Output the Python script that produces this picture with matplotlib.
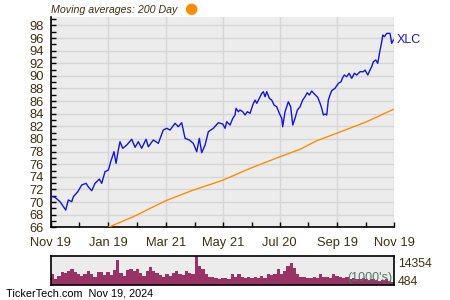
import matplotlib
matplotlib.use("Agg")
import matplotlib.pyplot as plt
from matplotlib.ticker import MultipleLocator, FixedLocator

plt.rcParams['font.family'] = ['Liberation Sans', 'DejaVu Sans']

# ---- data (days since Nov 19, 2023) ----
price_days = [0, 4.6, 9.9, 16, 18.7, 22.4, 24.1, 28.8, 33, 37.6, 40, 43.7, 47.2, 51.8, 54.3, 57.8,
              61.4, 63.9, 67.4, 69.6, 72, 73.8, 76.7, 81, 86.3, 89.8, 93.3, 96.9, 101.5, 104,
              109.3, 114.6, 119.9, 123.6, 127.1, 132.4, 135.9, 139.5, 143.1, 147.6, 151.9,
              155.5, 158.3, 160.8, 164.4, 167.9, 173.2, 178.5, 183.2, 185.7, 187.5, 191,
              193.9, 196.3, 197.4, 199.8, 201.6, 204.5, 207, 209.4, 212.3, 215.2, 217.6,
              219.5, 222.2, 224.8, 226.5, 228.3, 230.1, 232.9, 235.4, 237.9, 240.7, 243.5,
              246.1, 247.1, 249.6, 253.1, 255.6, 257.8, 260.2, 262.7, 265.6, 268.4, 270.9,
              273.3, 275.5, 278, 280.8, 284.4, 286.9, 288.7, 290.4, 292.2, 294, 295.7,
              297.5, 299.3, 302.8, 306.4, 309.2, 310.6, 312.7, 315.3, 317.8, 320.6, 323.4,
              325.9, 329.5, 333, 334.8, 337.7, 340.1, 341.9, 343.6, 346.2, 348.3, 350.8,
              352.6, 353.7, 355.4, 357.9, 361.4, 363.2, 365]
price_values = [70.96, 70.75, 70.06, 68.74, 70.33, 70.06, 70.85, 71.64, 72.70, 72.97, 72.43, 71.80,
                72.97, 73.65, 72.97, 74.81, 75.08, 76.40, 77.98, 76.14, 78.25, 79.57, 78.52,
                79.04, 79.95, 78.68, 79.57, 78.52, 79.95, 78.77, 79.84, 79.31, 81.42, 81.69,
                81.42, 82.48, 81.94, 82.58, 80.10, 79.84, 79.31, 77.98, 80.10, 77.82, 79.04,
                81.15, 81.69, 82.58, 82.37, 81.69, 82.74, 82.21, 83.27, 83.80, 84.86, 84.32,
                84.59, 84.32, 83.80, 84.32, 84.07, 85.38, 86.17, 85.65, 86.44, 87.24, 87.49,
                86.70, 87.49, 86.44, 86.17, 85.38, 85.11, 84.07, 83.27, 81.94, 84.32, 85.90,
                85.11, 82.21, 83.27, 84.59, 85.11, 86.17, 86.70, 87.33, 86.97, 87.60, 87.13,
                86.60, 85.65, 84.86, 83.80, 83.96, 83.80, 86.17, 86.97, 87.65, 88.03, 88.82,
                89.07, 89.61, 90.14, 89.87, 90.41, 89.61, 90.41, 90.14, 90.66, 90.66, 90.93,
                90.14, 90.93, 91.45, 92.24, 92.51, 91.99, 94.10, 95.41, 96.48, 96.21, 96.74,
                96.74, 95.16, 95.68]

ma_days = [61.4, 88, 121.8, 151.9, 182.1, 212.5, 244.3, 265.6, 283.3, 304.6, 336.6, 365]
ma_values = [66.0, 67.68, 70.17, 71.91, 73.39, 75.35, 77.19, 78.36, 79.72, 80.90, 82.74, 84.70]

volume_k = [5755, 3258, 4784, 6600, 6032, 7280, 7974, 6864, 5755, 4784, 5755, 7280, 5755,
            4090, 6864, 6864, 5200, 6864, 5200, 7696, 12412, 6448, 4784, 7696, 7974, 7280,
            7974, 6032, 4784, 7280, 8945, 7280, 6448, 5200, 4506, 5755, 4784, 6032, 7280,
            5755, 5200, 7280, 6448, 5755, 14354, 9638, 7974, 5755, 4506, 4090, 3674, 3258,
            3674,
            3674, 3258, 5755, 4090, 5755, 4090, 3674, 4090, 3674, 4506, 3674, 4784, 3674,
            5755, 5200, 5755, 7974, 5755, 7280, 9638, 11164, 8390, 5755, 4090, 4090, 3674,
            3674, 4090, 3674, 5755, 4506, 4090, 3674, 5755, 4784, 4090, 3674, 4506, 3258,
            3674, 3258, 3258, 3674, 3258, 2842, 3258, 2842, 2565, 2842, 3258, 2565, 2010]
vol_min, vol_max = 484, 14354

tick_days = [0, 61, 123, 184, 244, 305, 366]
tick_labels = ['Nov 19', 'Jan 19', 'Mar 21', 'May 21', 'Jul 20', 'Sep 19', 'Nov 19']

txt = '#3f3010'
bg = '#ececec'
grid_c = '#d6d6d6'

fig = plt.figure(figsize=(4.5, 3.0), dpi=100)
ax = fig.add_axes([0.1127, 0.2423, 0.7636, 0.7010])
ax.set_facecolor(bg)
ax.plot(ma_days, ma_values, color='#ff8c00', lw=1.0, zorder=3)
ax.plot(price_days, price_values, color='#1414e6', lw=1.0, zorder=4)
ax.set_xlim(0, 366)
ax.set_ylim(66, 99.33)
ax.yaxis.set_major_locator(MultipleLocator(2))
ax.yaxis.set_minor_locator(MultipleLocator(1))
ax.xaxis.set_major_locator(FixedLocator(tick_days))
ax.xaxis.set_minor_locator(FixedLocator([(a + b) / 2 for a, b in zip(tick_days[:-1], tick_days[1:])]))
ax.set_xticklabels(tick_labels)
ax.grid(True, which='major', color=grid_c, lw=1.0, zorder=0)
ax.set_axisbelow(True)
for s in ['top', 'right']:
    ax.spines[s].set_visible(False)
for s in ['left', 'bottom']:
    ax.spines[s].set_color('black')
    ax.spines[s].set_linewidth(1.2)
ax.tick_params(which='both', direction='in', length=3.5, width=1, color='black',
               labelcolor=txt, labelsize=9.3)
ax.tick_params(axis='x', which='major', pad=7)
ax.tick_params(axis='y', which='major', pad=5)

fig.text(0.1127, 0.968, 'Moving averages: 200 Day', fontsize=7.7, style='italic',
         color=txt, ha='left', va='center')
fig.text(0.4235, 0.972, '\u25CF', fontsize=11, color='#ff8c00', ha='center', va='center',
         family=['DejaVu Sans'])
ax.annotate('XLC', xy=(1.0, (price_values[-1] - 66) / (99.33 - 66)), xycoords='axes fraction',
            xytext=(2, 0), textcoords='offset points', color='#1414e6', fontsize=9,
            ha='left', va='center')

vax = fig.add_axes([0.1127, 0.05, 0.7636, 0.0967])
vax.set_facecolor(bg)
n = len(volume_k)
step = 366 / n
vdays = [step * (i + 0.5) for i in range(n)]
vax.bar(vdays, volume_k, width=step, color='#993366', edgecolor='none')
vax.set_xlim(0, 366)
vax.set_ylim(vol_min, vol_max)
vax.set_xticks([])
vax.set_yticks([])
for s in vax.spines.values():
    s.set_color('black')
    s.set_linewidth(1.2)
vax.text(0.995, 0.03, "(1000's)", transform=vax.transAxes, ha='right', va='bottom',
         color='#4f7a5f', fontsize=9)
fig.text(0.884, 0.12, '14354', ha='left', va='center', color=txt, fontsize=8.8)
fig.text(0.884, 0.06, '484', ha='left', va='center', color=txt, fontsize=8.8)

fig.text(0.013, 0.02, 'TickerTech.com  Nov 19, 2024', ha='left', va='center',
         color='black', fontsize=7.8)

fig.savefig('out.png', dpi=100)
